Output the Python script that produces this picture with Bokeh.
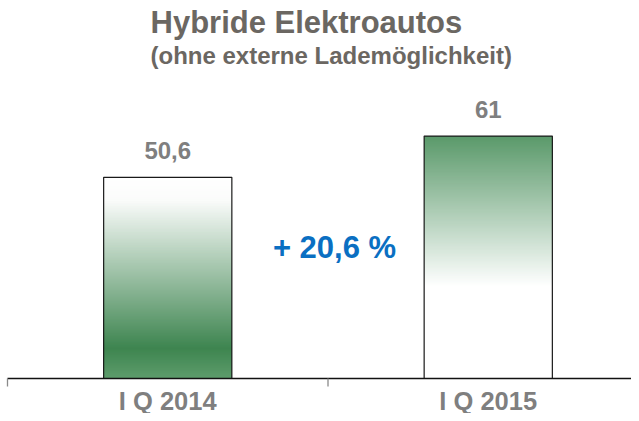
import numpy as np
from bokeh.plotting import figure
from bokeh.models import Range1d, Label
from bokeh.core.properties import value
from bokeh.embed import file_html
from bokeh.resources import INLINE

# ---- data ----
categories = ["I Q 2014", "I Q 2015"]
values = [50.6, 61.0]
value_labels = ["50,6", "61"]
change_label = "+ 20,6 %"
title_text = "Hybride Elektroautos"
subtitle_text = "(ohne externe Lademöglichkeit)"

FONT = "Liberation Sans"
GRAY = "#7f7f7f"
TITLE_GRAY = "#6b6762"

W, H = 631, 413
PX_PER_CAT = 320.5      # pixels per category slot
PX_PER_UNIT = 3.975     # pixels per value unit
BASE_PX = 378           # baseline position from top (px)
LEFT_PX = 7             # first category boundary (px)

x_centers = [i + 0.5 for i in range(len(categories))]
boundaries = list(range(len(categories) + 1))
bar_width = 0.40

x_start = -LEFT_PX / PX_PER_CAT
x_end = (W - LEFT_PX) / PX_PER_CAT
y_end = BASE_PX / PX_PER_UNIT
y_start = -(H - BASE_PX) / PX_PER_UNIT


def ypx(px):
    """data y for a pixel row measured from the top"""
    return (BASE_PX - px) / PX_PER_UNIT


def xpx(px):
    return (px - LEFT_PX) / PX_PER_CAT


p = figure(width=W, height=H, output_backend="svg", toolbar_location=None,
           x_range=Range1d(x_start, x_end), y_range=Range1d(y_start, y_end),
           x_axis_location=None, y_axis_location=None,
           min_border_left=0, min_border_right=0, min_border_top=0,
           min_border_bottom=0)
p.outline_line_color = None
p.grid.visible = False
p.background_fill_color = "white"
p.border_fill_color = "white"


def hex2rgb(h):
    h = h.lstrip("#")
    return np.array([int(h[i:i + 2], 16) for i in (0, 2, 4)], dtype=float)


# gradient stops (fraction from bar top, colour)
stops = [
    ([0.0, 0.11, 0.85, 1.0], ["#ffffff", "#fbfcfb", "#3e8550", "#5e9c6c"]),
    ([0.0, 0.62, 1.0], ["#5a996a", "#ffffff", "#ffffff"]),
]

N = 200
lefts, rights, tops, bottoms, colors = [], [], [], [], []
for xc, v, (fs, cs) in zip(x_centers, values, stops):
    rgb = np.array([hex2rgb(c) for c in cs])
    edges = np.linspace(0, 1, N + 1)
    for k in range(N):
        f0, f1 = edges[k], edges[k + 1]
        fm = 0.5 * (f0 + f1)
        col = [int(round(np.interp(fm, fs, rgb[:, j]))) for j in range(3)]
        lefts.append(xc - bar_width / 2)
        rights.append(xc + bar_width / 2)
        tops.append(v * (1 - f0))
        bottoms.append(0)          # overlapping strips: no seams
        colors.append("#%02x%02x%02x" % tuple(col))

p.quad(left=lefts, right=rights, top=tops, bottom=bottoms,
       fill_color=colors, line_color=None)

# outlines
p.vbar(x=x_centers, top=values, width=bar_width, bottom=0,
       fill_color=None, line_color="#1a1a1a", line_width=1.2)

# value labels
p.text(x=x_centers, y=values, text=value_labels, y_offset=-27,
       text_align="center", text_baseline="alphabetic",
       text_font=value(FONT), text_font_style="bold",
       text_font_size="24px", text_color=GRAY)

# category axis: baseline, boundary ticks, labels
tick_len = 8 / PX_PER_UNIT
p.segment(x0=[boundaries[0]], y0=[0], x1=[boundaries[-1]], y1=[0],
          line_color="#111111", line_width=1.3)
p.segment(x0=boundaries, y0=[0] * len(boundaries), x1=boundaries,
          y1=[-tick_len] * len(boundaries), line_color="#8a8a8a", line_width=1.3)
p.text(x=x_centers, y=[0] * len(categories), text=categories, y_offset=22,
       text_align="center", text_baseline="alphabetic",
       text_font=value(FONT), text_font_style="bold",
       text_font_size="25.5px", text_color=GRAY)

# titles
p.add_layout(Label(x=xpx(150), y=ypx(22), text=title_text,
                   text_font=FONT, text_font_style="bold", text_font_size="31px",
                   text_color=TITLE_GRAY, text_align="left",
                   text_baseline="alphabetic"))
p.add_layout(Label(x=xpx(150), y=ypx(55), text=subtitle_text,
                   text_font=FONT, text_font_style="bold", text_font_size="24px",
                   text_color=TITLE_GRAY, text_align="left",
                   text_baseline="alphabetic"))

# change annotation
p.add_layout(Label(x=xpx(334), y=ypx(247), text=change_label,
                   text_font=FONT, text_font_style="bold",
                   text_font_size="31px", text_color="#0a6fc2",
                   text_align="center", text_baseline="alphabetic"))

open("out.html", "w").write(file_html(p, INLINE))
